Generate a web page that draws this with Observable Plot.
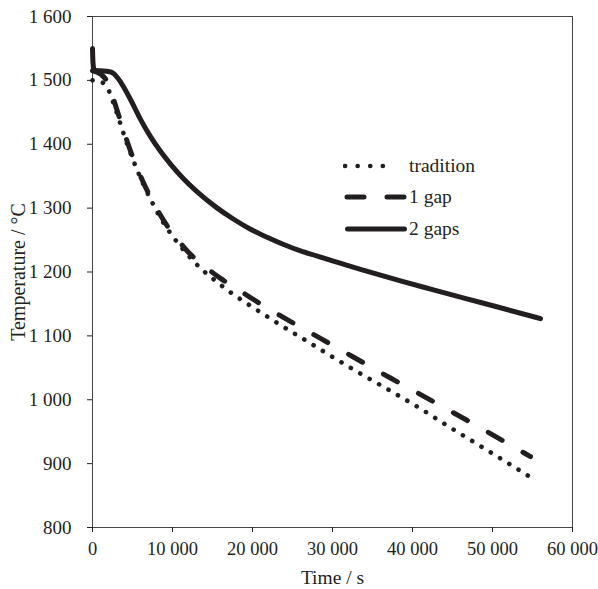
<!DOCTYPE html>
<html>
<head>
<meta charset="utf-8">
<script src="https://cdn.jsdelivr.net/npm/d3@7"></script>
<script src="https://cdn.jsdelivr.net/npm/@observablehq/plot@0.6"></script>
<style>
  html, body { margin: 0; padding: 0; background: white; }
  #wrap { position: relative; width: 598px; height: 589px; }
  #legend { position: absolute; left: 343px; top: 150px; font-family: "Liberation Serif", serif; font-size: 19.5px; color: #231f20; }
  #legend .row { display: flex; align-items: center; height: 31.5px; }
  #legend svg { display: block; margin-right: 2px; }
</style>
</head>
<body>
<div id="wrap"></div>
<script>
// ---- data ----
const tradTime = [0, 1000, 2000, 2600, 3100, 3900, 4400, 5000, 5600, 6400, 7500, 8250, 9400, 10750, 11900, 13500, 14500, 15600, 16400, 17600, 18900, 20000, 21000, 22250, 23500, 26900, 30400, 33900, 37500, 41000, 44400, 47900, 51400, 54960];
const tradTemp = [1500, 1498, 1485, 1465, 1447, 1416, 1398, 1378, 1359, 1336, 1308, 1290, 1267, 1244, 1227, 1206, 1195, 1184, 1176, 1165, 1154, 1145, 1137, 1127, 1117, 1091, 1064, 1038, 1012, 986, 959, 932, 905, 877];

const gap1Time = [0, 1000, 2000, 2600, 3100, 3900, 4400, 5000, 5600, 6400, 7500, 8250, 9400, 10750, 11900, 13100, 14400, 16000, 18250, 19750, 21400, 24400, 28500, 32600, 37250, 40600, 43900, 48500, 51000, 54750];
const gap1Temp = [1515, 1510, 1494, 1472, 1452, 1421, 1402, 1381, 1362, 1339, 1311, 1294, 1271, 1249, 1232, 1218, 1205, 1190, 1172, 1160, 1147, 1125, 1096, 1067, 1034, 1011, 988, 956, 938, 911];

const gap2Time = [0, 60, 200, 1000, 2000, 2600, 3200, 3875, 4750, 6000, 7250, 8500, 9750, 11375, 13125, 15600, 17600, 19750, 21900, 23900, 26000, 28100, 30100, 34375, 38500, 42625, 46800, 51000, 56000];
const gap2Temp = [1550, 1528, 1516, 1515, 1514, 1511, 1503, 1490, 1470, 1439, 1412, 1389, 1369, 1346, 1325, 1300, 1283, 1267, 1254, 1243, 1233, 1225, 1217, 1201, 1186, 1172, 1158, 1144, 1127];

const xTicks = [0, 10000, 20000, 30000, 40000, 50000, 60000];
const yTicks = [800, 900, 1000, 1100, 1200, 1300, 1400, 1500, 1600];

const seriesNames = ["tradition", "1 gap", "2 gaps"];

// ---- build tables ----
const toRows = (ts, vs) => ts.map((t, i) => ({t, v: vs[i]}));
const trad = toRows(tradTime, tradTemp);
const gap1 = toRows(gap1Time, gap1Temp);
const gap2 = toRows(gap2Time, gap2Temp);

const ink = "#231f20";
const fmt = d3.formatLocale({decimal: ".", thousands: " ", grouping: [3], currency: ["", ""]}).format(",");

const chart = Plot.plot({
  width: 598,
  height: 589,
  marginLeft: 92,
  marginRight: 26,
  marginTop: 16,
  marginBottom: 62,
  style: {fontFamily: "Liberation Serif, serif", fontSize: "19px", color: ink, background: "white"},
  x: {domain: [0, 60000]},
  y: {domain: [800, 1600]},
  marks: [
    Plot.frame({stroke: "#444", strokeWidth: 1}),
    Plot.axisX({ticks: xTicks, tickFormat: fmt, tickSize: 5, tickPadding: 9, label: null, fontVariant: "normal", fontSize: 18.5}),
    Plot.axisX({ticks: [], label: "Time / s", labelAnchor: "center", labelArrow: "none", labelOffset: 56, fontSize: 19.5, tickSize: 0}),
    Plot.axisY({ticks: yTicks, tickFormat: fmt, tickSize: 5, tickPadding: 16, label: null, fontVariant: "normal", fontSize: 19}),
    Plot.axisY({ticks: [], label: "Temperature / °C", labelAnchor: "center", labelArrow: "none", labelOffset: 82, fontSize: 20, tickSize: 0}),
    Plot.line(trad, {x: "t", y: "v", stroke: ink, strokeWidth: 4.6, strokeDasharray: "0.1 10.8", strokeLinecap: "round", curve: "monotone-x"}),
    Plot.line(gap1, {x: "t", y: "v", stroke: ink, strokeWidth: 5, strokeDasharray: "16 24", strokeLinecap: "round", curve: "monotone-x"}),
    Plot.line(gap2, {x: "t", y: "v", stroke: ink, strokeWidth: 5, strokeLinecap: "round", strokeLinejoin: "round", curve: "monotone-x"})
  ]
});

const wrap = document.getElementById("wrap");
wrap.appendChild(chart);

// ---- legend ----
const legend = document.createElement("div");
legend.id = "legend";
const styles = [
  {dash: "0.1 12.5", x1: 2, x2: 52, w: 4.6},
  {dash: "17 23", x1: 4, x2: 62, w: 5},
  {dash: null, x1: 4.5, x2: 61.5, w: 5}
];
seriesNames.forEach((name, i) => {
  const row = document.createElement("div");
  row.className = "row";
  const s = styles[i];
  row.innerHTML = `<svg width="64" height="12"><line x1="${s.x1}" x2="${s.x2}" y1="6" y2="6" stroke="${ink}" stroke-width="${s.w}" stroke-linecap="round" ${s.dash ? `stroke-dasharray="${s.dash}"` : ""}/></svg><span>${name}</span>`;
  legend.appendChild(row);
});
wrap.appendChild(legend);
</script>
</body>
</html>
